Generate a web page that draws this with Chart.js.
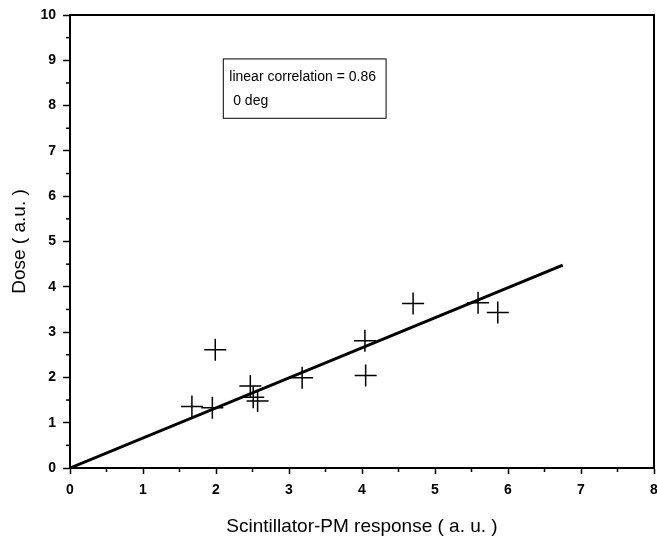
<!DOCTYPE html>
<html lang="en">
<head>
  <meta charset="UTF-8" />
  <title>Dose vs Scintillator-PM response</title>
  <script src="https://cdn.jsdelivr.net/npm/chart.js"></script>
  <style>
    html, body { margin: 0; padding: 0; background: #fff; }
    #wrap { width: 657px; height: 542px; }
  </style>
</head>
<body>
<div id="wrap"><canvas id="doseChart" width="657" height="542"></canvas></div>
<script>
const responseX = [1.67, 1.95, 1.99, 2.47, 2.51, 2.57, 3.18, 4.04, 4.05, 4.70, 5.59, 5.86];
const doseY     = [1.36, 1.33, 2.61, 1.81, 1.56, 1.48, 1.99, 2.81, 2.04, 3.63, 3.65, 3.43];

// fitted line endpoints
const fitX = [0, 6.75];
const fitY = [0, 4.48];

const xTicks = [0, 1, 2, 3, 4, 5, 6, 7, 8];
const yTicks = [0, 1, 2, 3, 4, 5, 6, 7, 8, 9, 10];
const boxLines = ['linear correlation = 0.86', ' 0 deg'];

const tickFont = { family: 'Liberation Sans, Arial, sans-serif', size: 14, weight: 'bold' };
const titleFont = { family: 'Liberation Sans, Arial, sans-serif', size: 19 };

// minor ticks, frame and text box
const extras = {
  id: 'extras',
  afterDraw(chart) {
    const { ctx, chartArea: a, scales: { x, y } } = chart;
    ctx.save();
    ctx.strokeStyle = '#000';
    ctx.lineWidth = 1.5;
    for (let v = 0.5; v < 8; v += 1) {
      const px = x.getPixelForValue(v);
      ctx.beginPath(); ctx.moveTo(px, a.bottom); ctx.lineTo(px, a.bottom + 4); ctx.stroke();
    }
    for (let v = 0.5; v < 10; v += 1) {
      const py = y.getPixelForValue(v);
      ctx.beginPath(); ctx.moveTo(a.left, py); ctx.lineTo(a.left - 4, py); ctx.stroke();
    }
    // top and right frame
    ctx.lineWidth = 2;
    ctx.beginPath();
    ctx.moveTo(a.left, a.top); ctx.lineTo(a.right, a.top); ctx.lineTo(a.right, a.bottom);
    ctx.stroke();

    // text box
    const bx = x.getPixelForValue(2.1), by = y.getPixelForValue(9.03);
    const bw = x.getPixelForValue(4.33) - bx, bh = y.getPixelForValue(7.72) - by;
    ctx.lineWidth = 1;
    ctx.strokeRect(bx, by, bw, bh);
    ctx.fillStyle = '#000';
    ctx.font = '14px "Liberation Sans", Arial, sans-serif';
    ctx.textBaseline = 'middle';
    ctx.fillText(boxLines[0], bx + 6, by + 18);
    ctx.fillText(boxLines[1], bx + 6, by + 42);
    ctx.restore();
  }
};

new Chart(document.getElementById('doseChart'), {
  type: 'scatter',
  data: {
    datasets: [
      {
        label: 'data',
        data: responseX.map((v, i) => ({ x: v, y: doseY[i] })),
        pointStyle: 'cross',
        pointRadius: 11,
        borderColor: '#000',
        borderWidth: 1.5,
        showLine: false
      },
      {
        label: 'fit',
        data: fitX.map((v, i) => ({ x: v, y: fitY[i] })),
        showLine: true,
        borderColor: '#000',
        borderWidth: 3,
        pointRadius: 0
      }
    ]
  },
  options: {
    responsive: false,
    animation: false,
    layout: { autoPadding: false, padding: { top: 15, right: 3, left: 0, bottom: 0 } },
    plugins: { legend: { display: false }, tooltip: { enabled: false } },
    scales: {
      x: {
        type: 'linear', min: 0, max: 8,
        afterBuildTicks: s => { s.ticks = xTicks.map(v => ({ value: v })); },
        afterFit: s => { s.height = 74; s.paddingLeft = 0; s.paddingRight = 0; },
        border: { color: '#000', width: 2 },
        grid: { drawOnChartArea: false, color: '#000', tickLength: 6, tickWidth: 1.5 },
        ticks: { color: '#000', font: tickFont, padding: 8, maxRotation: 0 },
        title: { display: true, text: 'Scintillator-PM response ( a. u. )', color: '#000', font: titleFont, padding: { top: 11 } }
      },
      y: {
        type: 'linear', min: 0, max: 10,
        afterBuildTicks: s => { s.ticks = yTicks.map(v => ({ value: v })); },
        afterFit: s => { s.width = 70; s.paddingTop = 0; s.paddingBottom = 0; },
        border: { color: '#000', width: 2 },
        grid: { drawOnChartArea: false, color: '#000', tickLength: 7, tickWidth: 1.5 },
        ticks: { color: '#000', font: tickFont, padding: 7 },
        title: { display: true, text: 'Dose ( a.u. )', color: '#000', font: titleFont, padding: { top: 8, bottom: 10 } }
      }
    }
  },
  plugins: [extras]
});
</script>
</body>
</html>
